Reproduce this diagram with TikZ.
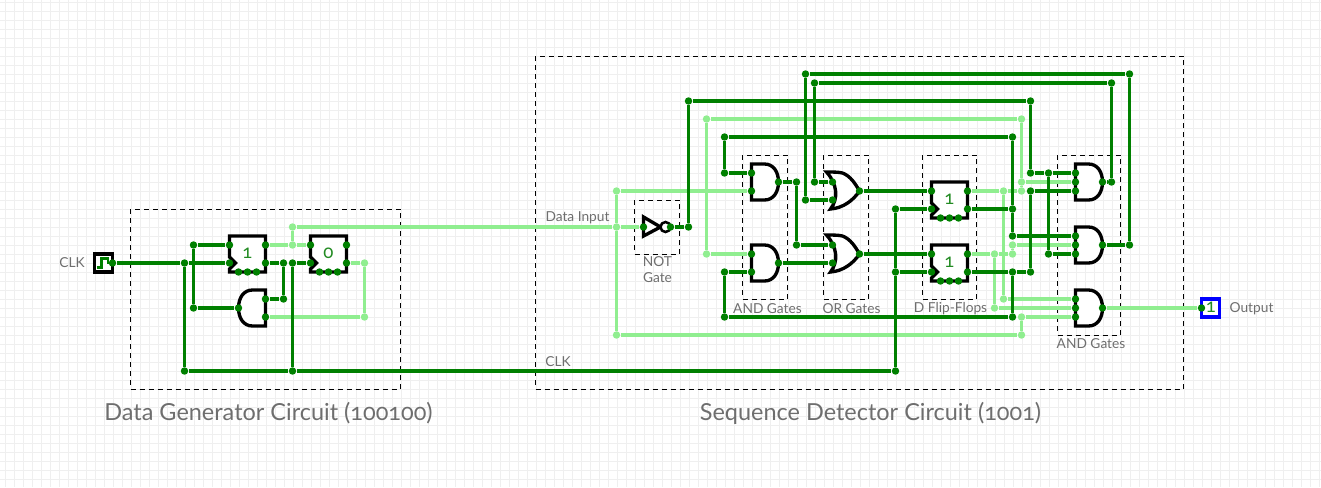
\documentclass[tikz,border=0pt]{standalone}
\usepackage{fontspec}
\setmainfont[Numbers=OldStyle]{Lato}
\definecolor{wirehi}{HTML}{008000}
\definecolor{wirelo}{HTML}{90EE90}
\definecolor{valtxt}{HTML}{228B22}
\definecolor{captxt}{HTML}{6E6E6E}
\definecolor{gridln}{HTML}{EFEFEF}
\tikzset{every picture/.style={line width=0.75pt},
	gridline/.style={draw=gridln,line width=0.75pt},
	groupbox/.style={draw=black,line width=0.75pt,dash pattern=on 3.75pt off 3pt},
	gatebody/.style={draw=black,fill=white,line width=2.5pt,line join=miter},
	wirea/.style={draw=wirehi,line width=2.8pt},
	wireb/.style={draw=wirelo,line width=2.8pt},
	dothi/.style={circle,fill=wirehi,inner sep=0pt,minimum size=5.6pt},
	dotlo/.style={circle,fill=wirelo,inner sep=0pt,minimum size=5.6pt},
	valtext/.style={text=valtxt,font=\fontsize{14}{14}\selectfont,inner sep=0pt},
	captext/.style={text=captxt,font=\fontsize{10.3}{12}\selectfont,inner sep=0pt,align=center},
	titletext/.style={text=captxt,font=\fontsize{17.6}{19}\selectfont,inner sep=0pt}}
\begin{document}
\begin{tikzpicture}[x=0.75pt,y=0.75pt,yscale=-1,xscale=1]
	\useasboundingbox (0.5,0) rectangle (1321.5,487);

	%Grid
	\foreach \lx in {6,15,...,1320} \draw[gridline] (\lx,0) -- (\lx,487);
	\foreach \ly in {2.5,11.5,...,486} \draw[gridline] (0,\ly) -- (1322,\ly);

	%Group boxes
	\draw[groupbox] (131,209) rectangle (401,389);
	\draw[groupbox] (536,56) rectangle (1184,389);
	\draw[groupbox] (635,200) rectangle (680,254);
	\draw[groupbox] (743,155) rectangle (788,299);
	\draw[groupbox] (824,155) rectangle (869,299);
	\draw[groupbox] (923,155) rectangle (977,299);
	\draw[groupbox] (1058,155) rectangle (1121,335);

	%Clock input
	\draw[gatebody] (95,254) rectangle (113,272);
	\draw[draw=wirehi,line width=1.6pt] (97,267.5) -- (102,267.5) -- (102,258.5) -- (108.5,258.5) -- (108.5,263) -- (113,263);
	\node[dothi] (clk) at (113,263) {};

	%Output box
	\draw[gatebody,draw=blue] (1202,299) rectangle (1220,317);
	\node[valtext] (outv) at (1211.5,307.5) {1};
	\node[dothi] (out) at (1202,308) {};

	%D flip-flops
	\foreach \fn/\fx/\fy/\fv in {ffa/230/236/1,ffb/311/236/0,ffc/932/182/1,ffd/932/245/1}{
		\draw[gatebody,shift={(\fx,\fy)}] (0,0) -- (36,0) -- (36,36) -- (0,36) -- (0,33) -- (6,27) -- (0,21) -- cycle;
		\node[valtext] (\fn-v) at (\fx+18,\fy+17.5) {\fv};
		\node[dothi] (\fn-d) at (\fx,\fy+9) {};
		\node[dothi] (\fn-c) at (\fx,\fy+27) {};
		\node[dothi] (\fn-q) at (\fx+36,\fy+9) {};
		\node[dothi] (\fn-n) at (\fx+36,\fy+27) {};
		\node[dothi] (\fn-x) at (\fx+9,\fy+36) {};
		\node[dothi] (\fn-y) at (\fx+18,\fy+36) {};
		\node[dothi] (\fn-z) at (\fx+27,\fy+36) {};
	}

	%AND gates
	\foreach \gn/\gx/\gy/\gs in {andl/266/290/-1,anda/752/164/1,andb/752/245/1,andc/1076/164/1,andd/1076/227/1,ande/1076/290/1}{
		\draw[gatebody,shift={(\gx,\gy)},xscale=\gs] (0,0) -- (13,0) .. controls (22,0) and (27,8) .. (27,18) .. controls (27,28) and (22,36) .. (13,36) -- (0,36) -- cycle;
		\node[dothi] (\gn-o) at (\gx+\gs*27,\gy+18) {};
	}
	\foreach \pn/\px/\py in {andl-a/266/299,andl-b/266/317,anda-a/752/173,anda-b/752/191,andb-a/752/254,andb-b/752/272,
		andc-a/1076/173,andc-b/1076/182,andc-c/1076/191,andd-a/1076/236,andd-b/1076/245,andd-c/1076/254,
		ande-a/1076/299,ande-b/1076/308,ande-c/1076/317}
		\node[dothi] (\pn) at (\px,\py) {};

	%OR gates
	\foreach \gn/\gy in {ora/172,orb/235}{
		\draw[gatebody,shift={(827,\gy)}] (0,0) .. controls (6,0) and (12,0) .. (16,1) .. controls (24,4) and (29,12) .. (33,19) .. controls (27,28) and (17,36) .. (4,37) .. controls (12,27) and (11,12) .. (0,0) -- cycle;
		\node[dothi] (\gn-a) at (833,\gy+10) {};
		\node[dothi] (\gn-b) at (833,\gy+28) {};
		\node[dothi] (\gn-o) at (860,\gy+19) {};
	}

	%NOT gate
	\draw[gatebody] (644,217) -- (644,236) -- (661,227) -- cycle;
	\draw[gatebody,line width=1.9pt] (666,227) circle (5);
	\node[dothi] (nota) at (644,227) {};
	\node[dothi] (noto) at (671,227) {};

	%Junctions on high wires
	\foreach \jn/\jx/\jy in {fana/185/263,fanb/185/371,fanc/293/263,fand/293/371,fane/896/209,fanf/896/272,fang/896/371,
		dfa/194/245,dfb/194/308,qfa/284/263,qfb/284/299,
		inva/689/227,invb/689/101,invc/1031/101,invd/1031/173,inve/1049/173,invf/1049/254,
		qda/1031/191,qdb/1031/272,qdc/1013/272,qdd/1013/317,qde/725/317,qdf/725/272,
		qca/1013/209,qcb/1013/137,qcc/725/137,qcd/725/173,qce/1013/236,
		amid/797/182,amie/797/245,
		ora-p/815/182,ora-t/815/83,ora-r/1112/83,ora-s/1112/182,
		orb-p/806/200,orb-t/806/74,orb-r/1130/74,orb-s/1130/245}
		\node[dothi] (\jn) at (\jx,\jy) {};

	%Junctions on low wires
	\foreach \jn/\jx/\jy in {lga/293/245,lgb/293/227,lgc/365/263,lgd/365/317,
		dia/617/227,dib/617/191,dic/617/335,did/1022/335,die/1022/317,
		lqa/1004/191,lqb/1022/191,lqc/1022/182,lqd/1022/119,lqe/707/119,lqf/707/254,lqg/1004/299,
		lra/995/254,lrb/1013/254,lrc/1013/245,lrd/995/308}
		\node[dotlo] (\jn) at (\jx,\jy) {};

	%Low wires
	\draw[wireb] (ffa-q) -- (lga) -- (ffb-d);
	\draw[wireb] (lga) -- (lgb) -- (dia) -- (nota);
	\draw[wireb] (ffb-n) -- (lgc) -- (lgd) -- (andl-b);
	\draw[wireb] (dia) -- (dib) -- (anda-b);
	\draw[wireb] (dia) -- (dic) -- (did) -- (die) -- (ande-c);
	\draw[wireb] (ffc-q) -- (lqa) -- (lqb) -- (lqc) -- (lqd) -- (lqe) -- (lqf) -- (andb-a);
	\draw[wireb] (lqc) -- (andc-b);
	\draw[wireb] (lqa) -- (lqg) -- (ande-a);
	\draw[wireb] (ffd-q) -- (lra) -- (lrb) -- (lrc) -- (andd-b);
	\draw[wireb] (lra) -- (lrd) -- (ande-b);
	\draw[wireb] (ande-o) -- (out);

	%High wires
	\draw[wirea] (clk) -- (fana) -- (ffa-c);
	\draw[wirea] (fana) -- (fanb) -- (fand) -- (fang) -- (fanf) -- (fane) -- (ffc-c);
	\draw[wirea] (fanf) -- (ffd-c);
	\draw[wirea] (fand) -- (fanc) -- (ffb-c);
	\draw[wirea] (ffa-d) -- (dfa) -- (dfb) -- (andl-o);
	\draw[wirea] (ffa-n) -- (qfa) -- (qfb) -- (andl-a);
	\draw[wirea] (noto) -- (inva) -- (invb) -- (invc) -- (invd) -- (inve) -- (andc-a);
	\draw[wirea] (inve) -- (invf) -- (andd-c);
	\draw[wirea] (ffd-n) -- (qdc) -- (qdb) -- (qda) -- (andc-c);
	\draw[wirea] (qdc) -- (qdd) -- (qde) -- (qdf) -- (andb-b);
	\draw[wirea] (ffc-n) -- (qca) -- (qcb) -- (qcc) -- (qcd) -- (anda-a);
	\draw[wirea] (qca) -- (qce) -- (andd-a);
	\draw[wirea] (anda-o) -- (amid) -- (amie) -- (orb-a);
	\draw[wirea] (andb-o) -- (orb-b);
	\draw[wirea] (ora-o) -- (ffc-d);
	\draw[wirea] (orb-o) -- (ffd-d);
	\draw[wirea] (ora-a) -- (ora-p) -- (ora-t) -- (ora-r) -- (ora-s) -- (andc-o);
	\draw[wirea] (ora-b) -- (orb-p) -- (orb-t) -- (orb-r) -- (orb-s) -- (andd-o);

	% Text Nodes
	\node[captext] (clka) at (72.5,262.5) {CLK};
	\node[captext] (clkb) at (558.5,361.5) {CLK};
	\node[captext] (dinp) at (578,217.5) {Data Input};
	\node[captext] (notg) at (658,269.5) {NOT\\Gate};
	\node[captext] (capa) at (768,308.5) {AND Gates};
	\node[captext] (capb) at (852,308.5) {OR Gates};
	\node[captext] (capc) at (951,308.5) {D Flip-Flops};
	\node[captext] (capd) at (1091.5,343.5) {AND Gates};
	\node[captext] (outl) at (1252,308.5) {Output};
	\node[titletext] (tila) at (269,413.5) {Data Generator Circuit (100100)};
	\node[titletext] (tilb) at (871,413.5) {Sequence Detector Circuit (1001)};
\end{tikzpicture}
\end{document}
